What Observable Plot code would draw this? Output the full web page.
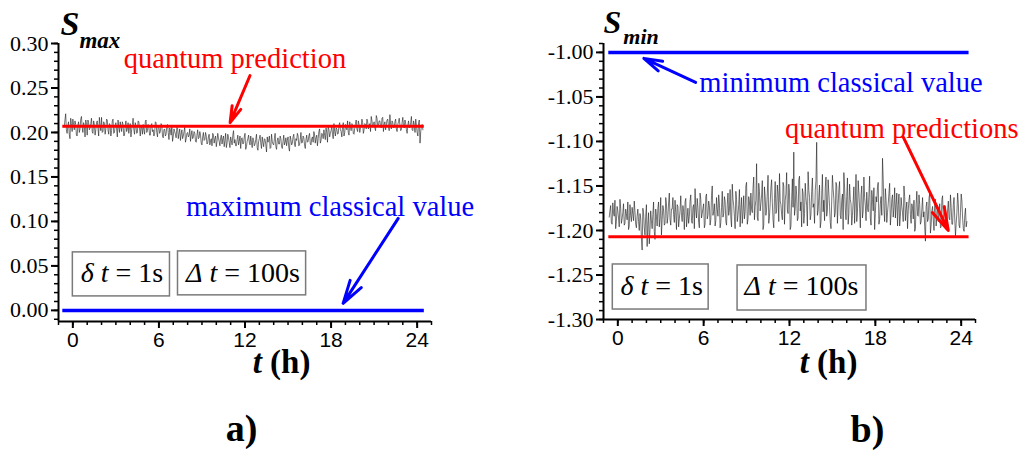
<!DOCTYPE html>
<html><head><meta charset="utf-8">
<script src="https://cdn.jsdelivr.net/npm/d3@7"></script>
<script src="https://cdn.jsdelivr.net/npm/@observablehq/plot@0.6"></script>
<style>
body{margin:0;background:#fff;}
#wrap{display:flex;width:1024px;height:453px;overflow:hidden;}
#wrap svg{overflow:visible;display:block;}
#wrap svg text{font-family:"Liberation Serif","Times New Roman",serif;}
#wrap svg g[aria-label="x-axis tick label"] text{font-family:"Liberation Sans",Arial,sans-serif;font-size:21px;}
#wrap svg g[aria-label="y-axis tick label"] text{font-size:22px;}
</style></head><body><div id="wrap"></div>
<script>
// ---- data ----
const tStart = -0.6, tStep = 0.1;   // sampling grid of the measured series (hours); "Mid" arrays sit half a step later
const smaxValues = [
0.206,0.221,0.199,0.212,0.193,0.210,0.215,0.203,0.209,0.196,
0.212,0.204,0.218,0.200,0.208,0.214,0.197,0.211,0.205,0.216,
0.199,0.209,0.203,0.213,0.196,0.207,0.217,0.201,0.210,0.204,
0.214,0.198,0.208,0.202,0.215,0.200,0.211,0.195,0.206,0.212,
0.201,0.209,0.197,0.213,0.204,0.199,0.210,0.203,0.216,0.198,
0.207,0.200,0.212,0.196,0.205,0.209,0.198,0.214,0.202,0.206,
0.197,0.210,0.203,0.199,0.211,0.195,0.206,0.201,0.208,0.194,
0.204,0.198,0.209,0.192,0.203,0.207,0.196,0.201,0.194,0.205,
0.199,0.191,0.203,0.196,0.206,0.193,0.200,0.197,0.190,0.202,
0.195,0.199,0.189,0.203,0.194,0.197,0.186,0.200,0.192,0.196,
0.188,0.198,0.191,0.185,0.197,0.193,0.184,0.199,0.190,0.194,
0.187,0.196,0.191,0.183,0.198,0.189,0.195,0.186,0.202,0.192,
0.185,0.197,0.190,0.182,0.194,0.188,0.199,0.184,0.193,0.189,
0.196,0.183,0.191,0.187,0.198,0.180,0.193,0.188,0.195,0.184,
0.192,0.178,0.189,0.196,0.183,0.190,0.186,0.199,0.181,0.194,
0.187,0.193,0.182,0.197,0.189,0.185,0.195,0.179,0.192,0.188,
0.198,0.184,0.191,0.196,0.186,0.200,0.189,0.194,0.182,0.197,
0.190,0.199,0.186,0.195,0.201,0.188,0.197,0.193,0.204,0.191,
0.198,0.203,0.192,0.200,0.207,0.195,0.202,0.198,0.210,0.196,
0.204,0.199,0.211,0.201,0.206,0.196,0.209,0.203,0.200,0.212,
0.202,0.208,0.198,0.210,0.204,0.213,0.200,0.207,0.211,0.203,
0.209,0.215,0.204,0.210,0.218,0.206,0.212,0.202,0.216,0.208,
0.213,0.205,0.217,0.209,0.203,0.214,0.207,0.220,0.204,0.211,
0.206,0.215,0.201,0.212,0.208,0.203,0.217,0.205,0.210,0.199,
0.213,0.206,0.218,0.202,0.209,0.215,0.200,0.211,0.188,0.207,0.203
];
const smaxMid = [
0.214,0.203,0.207,0.198,0.216,0.201,0.209,0.213,0.197,0.208,
0.200,0.215,0.206,0.211,0.195,0.209,0.214,0.203,0.210,0.201,
0.213,0.197,0.211,0.205,0.217,0.202,0.200,0.212,0.198,0.215,
0.203,0.210,0.196,0.213,0.199,0.208,0.204,0.214,0.200,0.207,
0.212,0.196,0.208,0.201,0.211,0.206,0.195,0.209,0.203,0.211,
0.199,0.213,0.204,0.208,0.198,0.203,0.212,0.200,0.209,0.197,
0.208,0.201,0.196,0.212,0.200,0.207,0.199,0.210,0.196,0.203,
0.196,0.207,0.200,0.205,0.197,0.190,0.204,0.198,0.206,0.193,
0.204,0.198,0.193,0.201,0.189,0.199,0.195,0.204,0.197,0.193,
0.201,0.190,0.197,0.193,0.201,0.188,0.195,0.191,0.200,0.187,
0.195,0.186,0.193,0.199,0.188,0.196,0.190,0.194,0.185,0.197,
0.193,0.184,0.199,0.188,0.194,0.183,0.191,0.197,0.188,0.185,
0.192,0.186,0.196,0.193,0.187,0.195,0.181,0.190,0.197,0.186,
0.189,0.194,0.185,0.192,0.183,0.190,0.197,0.182,0.189,0.193,
0.186,0.195,0.191,0.182,0.198,0.187,0.193,0.184,0.191,0.187,
0.196,0.184,0.190,0.186,0.194,0.191,0.183,0.196,0.186,0.195,
0.187,0.193,0.199,0.185,0.192,0.188,0.196,0.186,0.192,0.189,
0.196,0.187,0.193,0.189,0.197,0.194,0.185,0.201,0.188,0.199,
0.193,0.197,0.205,0.189,0.203,0.199,0.207,0.193,0.201,0.205,
0.198,0.208,0.203,0.195,0.211,0.200,0.205,0.213,0.197,0.206,
0.210,0.199,0.205,0.214,0.201,0.209,0.205,0.215,0.199,0.210,
0.204,0.212,0.208,0.201,0.213,0.209,0.205,0.219,0.207,0.213,
0.207,0.216,0.201,0.212,0.208,0.215,0.202,0.209,0.213,0.205,
0.212,0.204,0.209,0.216,0.202,0.211,0.207,0.214,0.203,0.208,
0.205,0.211,0.203,0.213,0.200,0.208,0.196,0.214,0.201,0.209
];
const sminValues = [
-1.185,-1.172,-1.193,-1.180,-1.166,-1.190,-1.178,-1.196,-1.175,-1.187,
-1.170,-1.192,-1.181,-1.168,-1.195,-1.183,-1.174,-1.189,-1.179,-1.197,
-1.176,-1.200,-1.186,-1.222,-1.180,-1.205,-1.171,-1.193,-1.215,-1.178,
-1.198,-1.168,-1.210,-1.184,-1.175,-1.196,-1.163,-1.188,-1.177,-1.192,
-1.170,-1.185,-1.158,-1.194,-1.176,-1.182,-1.166,-1.199,-1.173,-1.187,
-1.161,-1.190,-1.179,-1.168,-1.196,-1.175,-1.184,-1.160,-1.192,-1.171,
-1.153,-1.186,-1.174,-1.197,-1.165,-1.181,-1.170,-1.193,-1.159,-1.183,
-1.172,-1.188,-1.150,-1.179,-1.195,-1.163,-1.184,-1.169,-1.191,-1.156,
-1.181,-1.167,-1.194,-1.158,-1.177,-1.186,-1.148,-1.172,-1.198,-1.165,
-1.183,-1.154,-1.176,-1.192,-1.161,-1.179,-1.146,-1.187,-1.168,-1.158,
-1.180,-1.140,-1.173,-1.125,-1.189,-1.156,-1.170,-1.144,-1.194,-1.162,
-1.176,-1.138,-1.184,-1.152,-1.169,-1.197,-1.145,-1.178,-1.159,-1.136,
-1.171,-1.188,-1.150,-1.166,-1.135,-1.181,-1.157,-1.195,-1.142,-1.112,
-1.175,-1.160,-1.186,-1.139,-1.168,-1.153,-1.192,-1.147,-1.172,-1.134,
-1.163,-1.182,-1.141,-1.170,-1.155,-1.101,-1.178,-1.149,-1.190,-1.137,
-1.166,-1.152,-1.184,-1.143,-1.173,-1.198,-1.138,-1.164,-1.180,-1.150,
-1.171,-1.145,-1.187,-1.159,-1.135,-1.176,-1.162,-1.193,-1.148,-1.170,
-1.183,-1.151,-1.167,-1.190,-1.144,-1.175,-1.160,-1.186,-1.140,-1.172,
-1.157,-1.179,-1.139,-1.194,-1.165,-1.152,-1.181,-1.168,-1.146,-1.188,
-1.162,-1.119,-1.176,-1.153,-1.191,-1.170,-1.147,-1.182,-1.160,-1.174,
-1.186,-1.158,-1.172,-1.195,-1.163,-1.180,-1.150,-1.189,-1.168,-1.177,
-1.160,-1.192,-1.175,-1.166,-1.198,-1.156,-1.184,-1.171,-1.190,-1.163,
-1.179,-1.212,-1.168,-1.187,-1.158,-1.194,-1.173,-1.200,-1.165,-1.182,
-1.190,-1.170,-1.196,-1.161,-1.185,-1.176,-1.199,-1.167,-1.188,-1.174,
-1.193,-1.163,-1.206,-1.180,-1.170,-1.197,-1.159,-1.186,-1.201,-1.175,-1.190
];
const sminMid = [
-1.178,-1.191,-1.169,-1.184,-1.198,-1.173,-1.186,-1.165,-1.192,-1.180,
-1.194,-1.176,-1.188,-1.199,-1.171,-1.190,-1.182,-1.167,-1.193,-1.184,
-1.190,-1.181,-1.208,-1.175,-1.197,-1.184,-1.218,-1.180,-1.199,-1.189,
-1.182,-1.201,-1.176,-1.195,-1.168,-1.186,-1.205,-1.172,-1.194,-1.163,
-1.192,-1.169,-1.187,-1.176,-1.163,-1.191,-1.180,-1.171,-1.196,-1.178,
-1.183,-1.172,-1.199,-1.164,-1.186,-1.192,-1.167,-1.189,-1.174,-1.198,
-1.177,-1.164,-1.191,-1.158,-1.186,-1.175,-1.197,-1.162,-1.187,-1.167,
-1.194,-1.161,-1.183,-1.170,-1.189,-1.176,-1.160,-1.197,-1.174,-1.185,
-1.162,-1.190,-1.171,-1.183,-1.154,-1.196,-1.165,-1.184,-1.156,-1.190,
-1.171,-1.196,-1.163,-1.179,-1.187,-1.150,-1.193,-1.162,-1.183,-1.176,
-1.153,-1.188,-1.166,-1.185,-1.147,-1.178,-1.160,-1.199,-1.151,-1.183,
-1.158,-1.192,-1.170,-1.143,-1.188,-1.164,-1.181,-1.149,-1.190,-1.167,
-1.182,-1.146,-1.193,-1.159,-1.177,-1.148,-1.199,-1.165,-1.174,-1.183,
-1.150,-1.189,-1.143,-1.178,-1.196,-1.158,-1.181,-1.163,-1.195,-1.155,
-1.188,-1.156,-1.174,-1.192,-1.144,-1.183,-1.162,-1.197,-1.160,-1.179,
-1.189,-1.140,-1.177,-1.158,-1.191,-1.167,-1.153,-1.185,-1.146,-1.192,
-1.154,-1.183,-1.166,-1.199,-1.152,-1.188,-1.141,-1.181,-1.165,-1.194,
-1.168,-1.192,-1.137,-1.180,-1.158,-1.197,-1.150,-1.178,-1.163,-1.189,
-1.174,-1.160,-1.186,-1.155,-1.178,-1.199,-1.162,-1.151,-1.193,-1.170,
-1.183,-1.143,-1.190,-1.166,-1.180,-1.158,-1.194,-1.165,-1.185,-1.152,
-1.171,-1.195,-1.159,-1.184,-1.173,-1.190,-1.162,-1.176,-1.198,-1.166,
-1.182,-1.170,-1.187,-1.201,-1.171,-1.183,-1.160,-1.193,-1.176,-1.185,
-1.196,-1.173,-1.190,-1.164,-1.203,-1.178,-1.188,-1.167,-1.195,-1.172,
-1.181,-1.197,-1.165,-1.189,-1.172,-1.199,-1.177,-1.186,-1.160,-1.193,
-1.171,-1.187,-1.192,-1.158,-1.194,-1.180,-1.167,-1.198,-1.183,-1.196
];
const quantumMax = 0.207, classicalMax = 0.0;
const quantumMin = -1.207, classicalMin = -1.0;
const xTicks = [0, 6, 12, 18, 24];
const yTicksA = [0.00, 0.05, 0.10, 0.15, 0.20, 0.25, 0.30];
const yTicksB = [-1.30, -1.25, -1.20, -1.15, -1.10, -1.05, -1.00];
const labelsA = {y: "Smax", x: "t (h)", panel: "a)", quantum: "quantum prediction", classical: "maximum classical value", dt: "δ t = 1s", Dt: "Δ t = 100s"};
const labelsB = {y: "Smin", x: "t (h)", panel: "b)", quantum: "quantum predictions", classical: "minimum classical value", dt: "δ t = 1s", Dt: "Δ t = 100s"};

// rich text (italics / subscripts), applied to matching texts after rendering
const rich = {
  "Smax": 'S<tspan font-size="23" dy="13">max</tspan>',
  "Smin": 'S<tspan font-size="22" dx="2" dy="11">min</tspan>',
  "t (h)": '<tspan font-style="italic">t</tspan> (h)',
  "δ t = 1s": '<tspan font-style="italic">δ</tspan> <tspan font-style="italic">t</tspan> = 1s',
  "Δ t = 100s": '<tspan font-style="italic">Δ</tspan> <tspan font-style="italic">t</tspan> = 100s'
};

const RED = "#ff0000", BLUE = "#0000ff";

function panel(cfg) {
  const series = [];
  cfg.values.forEach((v, i) => {
    const t = tStart + i * tStep;
    series.push({t: +t.toFixed(3), v});
    if (i < cfg.mid.length) series.push({t: +(t + tStep / 2).toFixed(3), v: cfg.mid[i]});
  });
  const [y0, y1] = cfg.yDomain;
  const minorY = d3.range(Math.round(y0 * 100), Math.round(y1 * 100) + 1).map(k => k / 100);
  const minorX = d3.range(-1, 26);
  const L = cfg.labels, A = cfg.ann;
  const annText = {fontSize: 28.5, textAnchor: "middle", lineAnchor: "bottom"};
  const arrowOpts = {x1: "x1", y1: "y1", x2: "x2", y2: "y2", strokeWidth: 3, headLength: 12, headAngle: 32, bend: 0};
  const plot = Plot.plot({
    width: 512, height: 453,
    marginLeft: cfg.margins[0], marginRight: cfg.margins[1], marginTop: 43, marginBottom: cfg.margins[2],
    style: {background: "white", overflow: "visible"},
    x: {domain: [-1, 25]},
    y: {domain: cfg.yDomain},
    marks: [
      Plot.rect(A.boxes, {x1: "x1", x2: "x2", y1: "y1", y2: "y2", fill: "white", stroke: "#7a7a7a", strokeWidth: 1.5}),
      Plot.text(A.boxes, {x: "tx", y: "ty", text: d => L[d.key], fontSize: 28, textAnchor: "middle", lineAnchor: "bottom", fill: "black"}),
      Plot.line(series, {x: "t", y: "v", stroke: "#1a1a1a", strokeWidth: 0.6}),
      Plot.ruleY([cfg.classical], {x1: cfg.span[0], x2: cfg.span[1], stroke: BLUE, strokeWidth: 3.5}),
      Plot.ruleY([cfg.quantum], {x1: cfg.span[0], x2: cfg.span[1], stroke: RED, strokeWidth: 3}),
      Plot.arrow([A.qArrow], {...arrowOpts, stroke: RED}),
      Plot.arrow([A.cArrow], {...arrowOpts, stroke: BLUE}),
      Plot.text([A.qText], {x: "x", y: "y", text: () => L.quantum, fill: RED, ...annText}),
      Plot.text([A.cText], {x: "x", y: "y", text: () => L.classical, fill: BLUE, ...annText}),
      // axis lines
      Plot.ruleX([-1], {y1: y0, y2: y1, stroke: "black", strokeWidth: 2}),
      Plot.ruleY([y0], {x1: -1, x2: 25, stroke: "black", strokeWidth: 2}),
      Plot.axisY({ticks: minorY, tickSize: 4, text: null, strokeWidth: 1.5, label: null}),
      Plot.axisY({ticks: cfg.yTicks, tickSize: 7, tickPadding: 3, strokeWidth: 2, tickFormat: d => d.toFixed(2), label: null}),
      Plot.axisX({ticks: minorX, tickSize: 4, text: null, strokeWidth: 1.5, label: null}),
      Plot.axisX({ticks: xTicks, tickSize: 7, tickPadding: 4, strokeWidth: 2, tickFormat: d => String(d), label: null}),
      // titles
      Plot.text([L.y], {frameAnchor: "top-left", text: d => d, dx: cfg.yLab[0], dy: cfg.yLab[1], textAnchor: "start", lineAnchor: "bottom", fontSize: cfg.yLab[2], fontWeight: "bold", fontStyle: "italic"}),
      Plot.text([L.x], {frameAnchor: "bottom", text: d => d, dx: cfg.xLab[0], dy: cfg.xLab[1], textAnchor: "middle", lineAnchor: "bottom", fontSize: 33, fontWeight: "bold"}),
      Plot.text([L.panel], {frameAnchor: "bottom", text: d => d, dx: cfg.pLab[0], dy: cfg.pLab[1], textAnchor: "middle", lineAnchor: "bottom", fontSize: 38, fontWeight: "bold"})
    ]
  });
  plot.querySelectorAll("text").forEach(t => {
    const h = rich[t.textContent];
    if (h) t.innerHTML = h;
  });
  return plot;
}

const annA = {
  boxes: [
    {key: "dt", x1: 0, x2: 6.77, y1: 0.0157, y2: 0.0652, tx: 3.42, ty: 0.0315},
    {key: "Dt", x1: 7.33, x2: 16.26, y1: 0.0169, y2: 0.0663, tx: 11.86, ty: 0.0315}
  ],
  qArrow: {x1: 12.35, y1: 0.264, x2: 10.96, y2: 0.211},
  cArrow: {x1: 22.68, y1: 0.1034, x2: 18.84, y2: 0.0079},
  qText: {x: 11.3, y: 0.2719},
  cText: {x: 17.93, y: 0.1056}
};
const annB = {
  boxes: [
    {key: "dt", x1: -0.35, x2: 6.35, y1: -1.2888, y2: -1.2382, tx: 3.07, ty: -1.273},
    {key: "Dt", x1: 8.37, x2: 17.38, y1: -1.2899, y2: -1.2393, tx: 12.84, ty: -1.273}
  ],
  qArrow: {x1: 19.96, y1: -1.0955, x2: 23.1, y2: -1.2},
  cArrow: {x1: 5.44, y1: -1.0337, x2: 1.82, y2: -1.0067},
  qText: {x: 19.85, y: -1.0966},
  cText: {x: 15.6, y: -1.0449}
};

const wrap = document.getElementById("wrap");
wrap.appendChild(panel({
  values: smaxValues, mid: smaxMid, quantum: quantumMax, classical: classicalMax,
  yDomain: [-0.0125, 0.30], yTicks: yTicksA, span: [-0.7, 24.5],
  margins: [58, 81, 132], labels: labelsA, ann: annA,
  yLab: [2, -9, 34], xLab: [36.5, 51], pLab: [-3.5, 119]
}));
wrap.appendChild(panel({
  values: sminValues, mid: sminMid, quantum: quantumMin, classical: classicalMin,
  yDomain: [-1.30, -0.99], yTicks: yTicksB, span: [-0.63, 24.55],
  margins: [91, 49, 134], labels: labelsB, ann: annB,
  yLab: [0, -11, 32], xLab: [39, 53], pLab: [78, 122]
}));
</script></body></html>
